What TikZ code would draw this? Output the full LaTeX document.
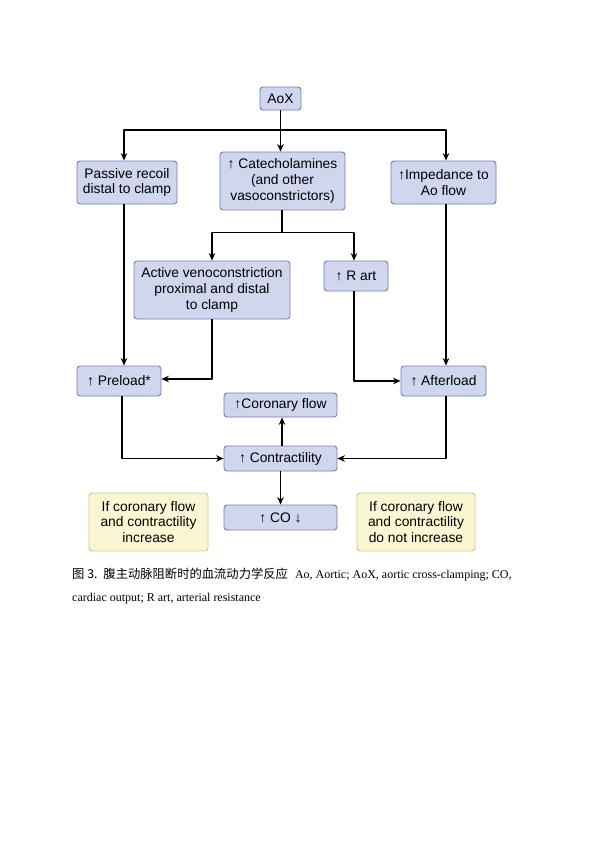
\documentclass[tikz,border=0pt]{standalone}
\usepackage{fontspec}
\setmainfont{Liberation Serif}
\setsansfont{Liberation Sans}
\newfontfamily\cjk{Noto Sans CJK SC}
\usetikzlibrary{arrows.meta}
\definecolor{boxfill}{RGB}{207,214,238}
\definecolor{boxline}{RGB}{111,127,181}
\definecolor{notefill}{RGB}{250,246,212}
\definecolor{noteline}{RGB}{214,199,138}
\newcommand{\boxfont}{\sffamily\fontsize{13.8}{15.6}\selectfont}
\begin{document}
\begin{tikzpicture}[x=1pt,y=-1pt,>={Stealth[length=7.5pt,width=6.5pt]},line join=round,
		box/.style={draw=boxline,fill=boxfill,line width=0.9pt,rounded corners=3pt,align=center,font=\boxfont,inner sep=0pt},
		note/.style={box,draw=noteline,fill=notefill},
		flow/.style={line width=1.6pt}]
	\useasboundingbox (0,0) rectangle (600,849);
	% first row
	\node[box,minimum width=41pt,minimum height=23pt] (aox) at (280.5,98.5) {AoX};
	\node[box,minimum width=100pt,minimum height=43pt] (recoil) at (127,182.5) {Passive recoil\\distal to clamp};
	\node[box,minimum width=125pt,minimum height=58pt] (catechol) at (282.5,181) {↑ Catecholamines\\(and other\\vasoconstrictors)};
	\node[box,minimum width=105pt,minimum height=43pt] (imped) at (443.5,182.5) {↑Impedance to\\Ao flow};
	% second row
	\node[box,minimum width=156pt,minimum height=58pt] (veno) at (212,290) {Active venoconstriction\\proximal and distal\\to clamp};
	\node[box,minimum width=64pt,minimum height=30pt] (rart) at (356,276) {↑ R art};
	% loads
	\node[box,minimum width=84pt,minimum height=30pt] (preload) at (119,381) {↑ Preload*};
	\node[box,minimum width=85pt,minimum height=30pt] (afterload) at (443.5,381) {↑ Afterload};
	% heart
	\node[box,minimum width=113pt,minimum height=24pt] (coronary) at (280.5,405) {↑Coronary flow};
	\node[box,minimum width=113pt,minimum height=25pt] (contract) at (280.5,458.5) {↑ Contractility};
	\node[box,minimum width=113pt,minimum height=25pt] (co) at (280.5,517.5) {↑ CO ↓};
	\node[note,minimum width=119pt,minimum height=58pt] (noteyes) at (148.5,522) {If coronary flow\\and contractility\\increase};
	\node[note,minimum width=118pt,minimum height=58pt] (noteno) at (416,522) {If coronary flow\\and contractility\\do not increase};
	% connectors
	\coordinate (split1) at (280.5,130);
	\coordinate (split2) at (282,232.5);
	\draw[flow] (aox) -- (split1);
	\draw[flow,->] (split1) -- (split1 |- catechol.north);
	\draw[flow,->] (split1) -| ([xshift=-3pt]recoil.north);
	\draw[flow,->] (split1) -| ([xshift=2.5pt]imped.north);
	\draw[flow] (catechol.south -| split2) -- (split2);
	\draw[flow,->] (split2) -| (veno);
	\draw[flow,->] (split2) -| ([xshift=-2pt]rart.north);
	\draw[flow,->] ([xshift=-3pt]recoil.south) -- ([xshift=5pt]preload.north);
	\draw[flow,->] (veno) |- ([yshift=2pt]preload.east);
	\draw[flow,->] ([xshift=-2pt]rart.south) |- (afterload);
	\draw[flow,->] ([xshift=2.5pt]imped.south) -- ([xshift=2.5pt]afterload.north);
	\draw[flow,->] ([xshift=3pt]preload.south) |- (contract);
	\draw[flow,->] ([xshift=2.5pt]afterload.south) |- (contract);
	\draw[flow,->] ([xshift=1.5pt]contract.north) -- ([xshift=1.5pt]coronary.south);
	\draw[flow,->] (contract) -- (co);
	% caption
	\node[anchor=base west,inner sep=0pt,font=\fontsize{12}{14}\selectfont] (cap1) at (72,578) {{\cjk\fontsize{12.3}{14}\selectfont 图 3.\hspace{6pt}腹主动脉阻断时的血流动力学反应}\hspace{7pt}Ao, Aortic; AoX, aortic cross-clamping; CO,};
	\node[anchor=base west,inner sep=0pt,font=\fontsize{12}{14}\selectfont] (cap2) at (72,601) {cardiac output; R art, arterial resistance};
\end{tikzpicture}
\end{document}
